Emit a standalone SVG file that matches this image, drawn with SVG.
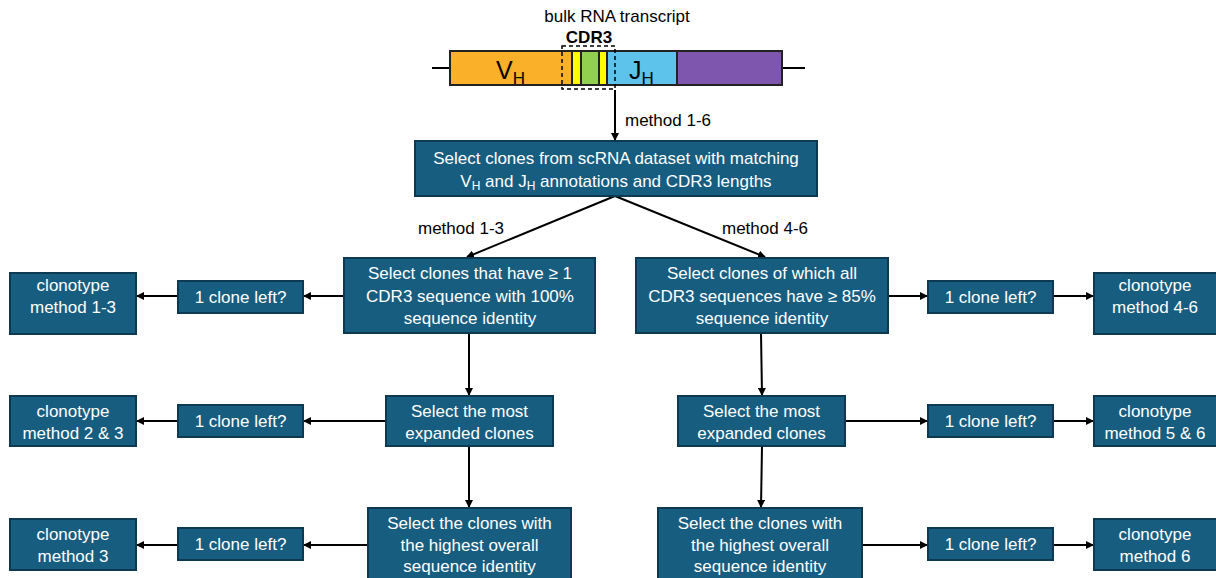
<svg xmlns="http://www.w3.org/2000/svg" width="1216" height="578" viewBox="0 0 1216 578">
<style>
.box{fill:#175d80;stroke:#0d3a52;stroke-width:2}
.t{font-family:"Liberation Sans",Arial,sans-serif;font-size:17px;fill:#ffffff;text-anchor:middle}
.lbl{font-family:"Liberation Sans",Arial,sans-serif;font-size:17px;fill:#000000}
.c{stroke:#000;stroke-width:2;fill:none;marker-end:url(#ah)}
.seg{stroke:#222;stroke-width:2}
</style>
<defs>
<marker id="ah" markerWidth="8" markerHeight="8" refX="7" refY="4" orient="auto" markerUnits="userSpaceOnUse" viewBox="0 0 8 8">
<path d="M0,0 L8,4 L0,8 z" fill="#000"/>
</marker>
</defs>
<rect width="1216" height="578" fill="#fff"/>

<g id="transcript">
<text class="lbl" x="617" y="22" text-anchor="middle">bulk RNA transcript</text>
<text class="lbl" x="589" y="43" text-anchor="middle" font-size="12.5" font-weight="bold">CDR3</text>
<line x1="432" y1="68" x2="805" y2="68" stroke="#000" stroke-width="2"/>
<rect x="450" y="51" width="122" height="34" fill="#fbb02a" class="seg"/>
<rect x="572" y="51" width="9" height="34" fill="#ffff00" class="seg"/>
<rect x="581" y="51" width="18" height="34" fill="#92d050" class="seg"/>
<rect x="599" y="51" width="8" height="34" fill="#ffff00" class="seg"/>
<rect x="607" y="51" width="70" height="34" fill="#5ec3ea" class="seg"/>
<rect x="677" y="51" width="105" height="34" fill="#7f56ad" class="seg"/>
<rect x="562" y="46" width="53" height="43" fill="none" stroke="#000" stroke-width="1.5" stroke-dasharray="4,3"/>
<text font-family="Liberation Sans,Arial,sans-serif" font-size="25" x="496" y="79" fill="#000">V<tspan font-size="17" dy="5">H</tspan></text>
<text font-family="Liberation Sans,Arial,sans-serif" font-size="25" x="629" y="79" fill="#000">J<tspan font-size="17" dy="5">H</tspan></text>
</g>

<g id="connectors">
<line class="c" x1="615" y1="90" x2="615" y2="140"/>
<line class="c" x1="615" y1="196" x2="467" y2="257"/>
<line class="c" x1="615" y1="196" x2="765" y2="257"/>
<line class="c" x1="344" y1="296" x2="304" y2="296"/>
<line class="c" x1="178" y1="296" x2="137" y2="296"/>
<line class="c" x1="888" y1="296" x2="927" y2="296"/>
<line class="c" x1="1053" y1="296" x2="1093" y2="296"/>
<line class="c" x1="469" y1="333" x2="469" y2="395"/>
<line class="c" x1="469" y1="446" x2="469" y2="507"/>
<line class="c" x1="761" y1="333" x2="762" y2="395"/>
<line class="c" x1="762" y1="446" x2="761" y2="507"/>
<line class="c" x1="386" y1="421" x2="304" y2="421"/>
<line class="c" x1="178" y1="421" x2="137" y2="421"/>
<line class="c" x1="845" y1="421" x2="927" y2="421"/>
<line class="c" x1="1053" y1="421" x2="1093" y2="421"/>
<line class="c" x1="368" y1="545" x2="304" y2="545"/>
<line class="c" x1="178" y1="545" x2="137" y2="545"/>
<line class="c" x1="862" y1="545" x2="927" y2="545"/>
<line class="c" x1="1053" y1="545" x2="1093" y2="545"/>
<text class="lbl" x="625" y="126">method 1-6</text>
<text class="lbl" x="418" y="234">method 1-3</text>
<text class="lbl" x="722" y="234">method 4-6</text>
</g>

<g id="n-select-scrna">
<rect class="box" x="415" y="141" width="402" height="55"/>
<text class="t" x="616" y="164">Select clones from scRNA dataset with matching</text>
<text class="t" x="616" y="187">V<tspan font-size="12" dy="3">H</tspan><tspan dy="-3"> and J</tspan><tspan font-size="12" dy="3">H</tspan><tspan dy="-3"> annotations and CDR3 lengths</tspan></text>
</g>

<g id="n-a1">
<rect class="box" x="344" y="258" width="251" height="75"/>
<text class="t" x="470" y="279">Select clones that have ≥ 1</text>
<text class="t" x="470" y="302">CDR3 sequence with 100%</text>
<text class="t" x="470" y="324">sequence identity</text>
</g>
<g id="n-a1-q"><rect class="box" x="178" y="281" width="125" height="32"/><text class="t" x="240.5" y="303">1 clone left?</text></g>
<g id="n-a1-c"><rect class="box" x="10" y="273" width="126" height="61"/><text class="t" x="73" y="291">clonotype</text><text class="t" x="73" y="313">method 1-3</text></g>

<g id="n-b1">
<rect class="box" x="636" y="258" width="252" height="75"/>
<text class="t" x="762" y="279">Select clones of which all</text>
<text class="t" x="762" y="302">CDR3 sequences have ≥ 85%</text>
<text class="t" x="762" y="324">sequence identity</text>
</g>
<g id="n-b1-q"><rect class="box" x="928" y="281" width="125" height="32"/><text class="t" x="990.5" y="303">1 clone left?</text></g>
<g id="n-b1-c"><rect class="box" x="1094" y="273" width="124" height="61"/><text class="t" x="1155" y="291">clonotype</text><text class="t" x="1155" y="313">method 4-6</text></g>

<g id="n-a2">
<rect class="box" x="386" y="396" width="167" height="50"/>
<text class="t" x="469.5" y="417">Select the most</text>
<text class="t" x="469.5" y="439">expanded clones</text>
</g>
<g id="n-a2-q"><rect class="box" x="178" y="405" width="125" height="32"/><text class="t" x="240.5" y="427">1 clone left?</text></g>
<g id="n-a2-c"><rect class="box" x="10" y="396" width="126" height="50"/><text class="t" x="73" y="417">clonotype</text><text class="t" x="73" y="439">method 2 &amp; 3</text></g>

<g id="n-b2">
<rect class="box" x="678" y="396" width="167" height="50"/>
<text class="t" x="761.5" y="417">Select the most</text>
<text class="t" x="761.5" y="439">expanded clones</text>
</g>
<g id="n-b2-q"><rect class="box" x="928" y="405" width="125" height="32"/><text class="t" x="990.5" y="427">1 clone left?</text></g>
<g id="n-b2-c"><rect class="box" x="1094" y="396" width="124" height="50"/><text class="t" x="1155" y="417">clonotype</text><text class="t" x="1155" y="439">method 5 &amp; 6</text></g>

<g id="n-a3">
<rect class="box" x="368" y="508" width="203" height="75"/>
<text class="t" x="469.5" y="529">Select the clones with</text>
<text class="t" x="469.5" y="551">the highest overall</text>
<text class="t" x="469.5" y="572">sequence identity</text>
</g>
<g id="n-a3-q"><rect class="box" x="178" y="528" width="125" height="32"/><text class="t" x="240.5" y="550">1 clone left?</text></g>
<g id="n-a3-c"><rect class="box" x="10" y="519" width="126" height="51"/><text class="t" x="73" y="540">clonotype</text><text class="t" x="73" y="562">method 3</text></g>

<g id="n-b3">
<rect class="box" x="658" y="508" width="204" height="75"/>
<text class="t" x="760" y="529">Select the clones with</text>
<text class="t" x="760" y="551">the highest overall</text>
<text class="t" x="760" y="572">sequence identity</text>
</g>
<g id="n-b3-q"><rect class="box" x="928" y="528" width="125" height="32"/><text class="t" x="990.5" y="550">1 clone left?</text></g>
<g id="n-b3-c"><rect class="box" x="1094" y="519" width="124" height="51"/><text class="t" x="1155" y="540">clonotype</text><text class="t" x="1155" y="562">method 6</text></g>
</svg>
